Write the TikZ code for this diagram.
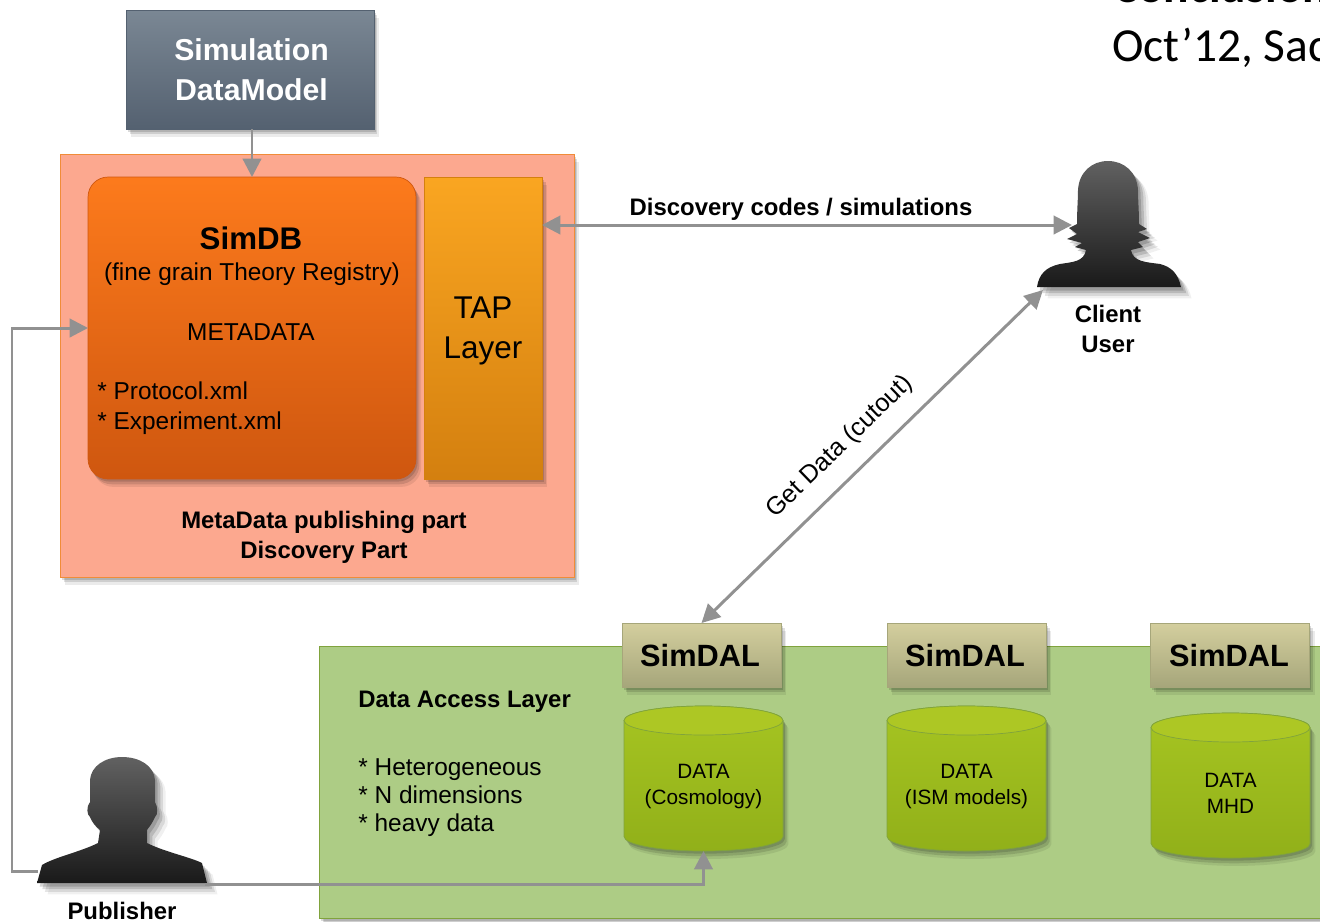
\documentclass[tikz,border=0pt]{standalone}
\usepackage{fontspec}
\setmainfont{Liberation Sans}
\newfontfamily\slidefont{Carlito}
\usetikzlibrary{shadows,arrows.meta}
\definecolor{flowgray}{rgb}{0.57, 0.57, 0.57}
\definecolor{salmonback}{rgb}{0.99, 0.66, 0.56}
\definecolor{salmonline}{rgb}{0.94, 0.55, 0.22}
\definecolor{leafback}{rgb}{0.68, 0.80, 0.52}
\definecolor{leafline}{rgb}{0.50, 0.64, 0.24}
\definecolor{slatetop}{rgb}{0.48, 0.53, 0.58}
\definecolor{slatebottom}{rgb}{0.33, 0.38, 0.44}
\definecolor{dbtop}{rgb}{0.99, 0.48, 0.11}
\definecolor{dbbottom}{rgb}{0.81, 0.34, 0.06}
\definecolor{taptop}{rgb}{0.98, 0.65, 0.13}
\definecolor{tapbottom}{rgb}{0.83, 0.50, 0.06}
\definecolor{daltop}{rgb}{0.83, 0.81, 0.62}
\definecolor{dalbottom}{rgb}{0.65, 0.65, 0.48}
\definecolor{cyltop}{rgb}{0.65, 0.77, 0.13}
\definecolor{cylbottom}{rgb}{0.57, 0.69, 0.10}
\definecolor{cylend}{rgb}{0.68, 0.78, 0.14}
\tikzset{
    softshadow/.style={
        general shadow={shadow xshift=1pt, shadow yshift=-1.5pt, fill=black, opacity=.14},
        general shadow={shadow xshift=2pt, shadow yshift=-3pt, fill=black, opacity=.12},
        general shadow={shadow xshift=3pt, shadow yshift=-4.5pt, fill=black, opacity=.08}},
    personshadow/.style={
        general shadow={shadow xshift=1.5pt, shadow yshift=-2pt, fill=black, opacity=.16},
        general shadow={shadow xshift=3pt, shadow yshift=-3.5pt, fill=black, opacity=.14},
        general shadow={shadow xshift=4.5pt, shadow yshift=-5pt, fill=black, opacity=.10},
        general shadow={shadow xshift=6pt, shadow yshift=-6.5pt, fill=black, opacity=.06}},
    boxshape/.style={rectangle, inner sep=0pt, outer sep=0pt, softshadow},
    modelbox/.style={boxshape, draw=slatebottom, top color=slatetop, bottom color=slatebottom,
        minimum width=4.96cm, minimum height=2.38cm},
    dbbox/.style={boxshape, rounded corners=0.4cm, draw=dbbottom, top color=dbtop, bottom color=dbbottom,
        minimum width=6.56cm, minimum height=6.04cm},
    tapbox/.style={boxshape, draw=tapbottom, top color=taptop, bottom color=tapbottom,
        minimum width=2.36cm, minimum height=6.04cm},
    dalbox/.style={boxshape, draw=dalbottom, top color=daltop, bottom color=dalbottom,
        minimum width=3.18cm, minimum height=1.28cm},
    cylbody/.style={softshadow, draw=leafline, top color=cyltop, bottom color=cylbottom},
    cylcap/.style={draw=leafline, fill=cylend},
    cylframe/.style={rectangle, inner sep=0pt, outer sep=0pt, minimum width=3.18cm, minimum height=2.9cm},
    person/.style={top color=black!62, bottom color=black!90, personshadow},
    flow/.style={draw=flowgray, line width=1.7pt, >={Triangle[length=10.5pt, width=10.5pt]}},
    smalltext/.style={font=\fontsize{13.9}{17}\selectfont, align=left, inner sep=0pt},
    boldtext/.style={font=\fontsize{13.6}{17}\selectfont\bfseries, align=center, inner sep=0pt},
    datatext/.style={font=\fontsize{11.8}{14.7}\selectfont, align=center, inner sep=0pt},
    dalname/.style={font=\fontsize{17.5}{20}\selectfont\bfseries, inner sep=0pt}
}

\begin{document}
\begin{tikzpicture}[x=0.02cm, y=-0.02cm]
    \useasboundingbox (0,0) rectangle (1320,921);
    \clip (0,0) rectangle (1320,921);

    % Back panels
    \node[rectangle, softshadow, draw=salmonline, fill=salmonback, minimum width=10.28cm, minimum height=8.46cm] (metapanel) at (317,365.5) {};
    \node[rectangle, softshadow, draw=leafline, fill=leafback, minimum width=20.4cm, minimum height=5.44cm] (dalpanel) at (829,782) {};

    % Registry
    \node[modelbox] (simdm) at (250,69.5) {};
    \node[font=\fontsize{17.2}{22.7}\selectfont\bfseries, text=white, align=center, inner sep=0pt] (simdmtext) at (251.5,69.5) {Simulation\\DataModel};
    \node[dbbox] (simdb) at (252,328) {};
    \node[tapbox] (tap) at (483,328) {};
    \node[font=\fontsize{17.8}{20}\selectfont\bfseries, inner sep=0pt] (simdbname) at (251,238.5) {SimDB};
    \node[smalltext] (simdbnote) at (252,274) {(fine grain Theory Registry)};
    \node[smalltext] (metadata) at (251,332.5) {METADATA};
    \node[smalltext, anchor=west] (xmlfiles) at (97,408) {* Protocol.xml\\* Experiment.xml};
    \node[font=\fontsize{17.9}{22.4}\selectfont, align=center, inner sep=0pt] (taptext) at (483,331) {TAP\\Layer};
    \node[boldtext] (metatext) at (324,537) {MetaData publishing part\\Discovery Part};

    % Data access
    \node[boldtext, anchor=west] (daltext) at (358,701.5) {Data Access Layer};
    \node[anchor=west, font=\fontsize{13.9}{16}\selectfont, align=left, inner sep=0pt] (dallist) at (358,797.5) {* Heterogeneous\\* N dimensions\\* heavy data};
    \foreach \name/\x/\y/\txt in {A/703.5/778.5/{DATA\\(Cosmology)}, B/966.5/778.5/{DATA\\(ISM models)}, C/1230.5/785.5/{DATA\\MHD}}
    {
        \path[cylbody] (\x-79.5,\y-58) -- (\x-79.5,\y+58) arc [start angle=180, end angle=0, x radius=79.5, y radius=14.5]
            -- (\x+79.5,\y-58) arc [start angle=360, end angle=180, x radius=79.5, y radius=14.5] -- cycle;
        \draw[cylcap] (\x,\y-58) ellipse [x radius=79.5, y radius=14.5];
        \node[cylframe] (data\name) at (\x,\y) {};
        \node[datatext] (text\name) at (\x,\y+8) {\txt};
    }
    \node[dalbox] (simdalA) at (701.5,655) {};
    \node[dalbox] (simdalB) at (966.5,655) {};
    \node[dalbox] (simdalC) at (1230,655) {};
    \node[dalname] (simdaltextA) at (700,655) {SimDAL};
    \node[dalname] (simdaltextB) at (965,655) {SimDAL};
    \node[dalname] (simdaltextC) at (1229,655) {SimDAL};

    % Persons
    \path[person] (1037,287) .. controls (1039,274) and (1046,267) .. (1060,264) .. controls (1072,262) and (1084,262) .. (1086,250)
        -- (1075,247) -- (1082,243) -- (1067,239) -- (1077,234) -- (1069,228) -- (1077,224)
        .. controls (1077,210) and (1078,200) .. (1078,190) .. controls (1079,172) and (1092,161) .. (1108,161)
        .. controls (1124,161) and (1137,172) .. (1138,190) .. controls (1138,200) and (1139,210) .. (1139,224)
        -- (1147,229) -- (1138,232) -- (1150,238) -- (1138,242) -- (1143,247) -- (1131,250)
        .. controls (1133,262) and (1146,262) .. (1160,264) .. controls (1172,267) and (1178,274) .. (1181,287) -- cycle;
    \path[person] (37,883) -- (42,865) .. controls (55,857) and (80,852) .. (98,843) -- (100,830)
        .. controls (95,826) and (92,822) .. (90,817) .. controls (87,815) and (86,807) .. (90,802)
        -- (90,780) .. controls (91,766) and (105,757) .. (122,757) .. controls (140,757) and (154,766) .. (155,780)
        -- (155,802) .. controls (158,807) and (158,815) .. (155,817) .. controls (153,822) and (150,826) .. (147,830)
        -- (147,843) .. controls (165,852) and (190,857) .. (202,863) -- (207,883) -- cycle;
    \node[boldtext] (clienttext) at (1108,329) {Client\\User};
    \node[boldtext] (publishertext) at (122,911) {Publisher};
    \coordinate (clientleft) at (1072,225);
    \coordinate (clientfoot) at (1043,290);
    \coordinate (publisherleft) at (38,871);
    \coordinate (publisherright) at (205,884);
    \coordinate (corner) at (12,871);

    % Connectors
    \draw[flow, ->] (simdb.north |- simdm.south) -- (simdb.north);
    \draw[flow, <->] (tap.east |- clientleft) -- (clientleft);
    \draw[flow, <->] (simdalA.north) -- (clientfoot);
    \draw[flow, ->] (publisherleft) -- (corner) |- (simdb.west);
    \draw[flow, ->] (publisherright) -| (dataA.south);
    \node[boldtext] (discoverytext) at (801,209) {Discovery codes / simulations};
    \node[font=\fontsize{14.3}{16}\selectfont, rotate=44, inner sep=0pt] (getdatatext) at (840,447) {Get Data (cutout)};

    % Slide title
    \node[anchor=base west, font=\slidefont\fontsize{27}{30}\selectfont\bfseries, inner sep=0pt] (slidetitle) at (1113,2) {Conclusion};
    \node[anchor=base west, font=\slidefont\fontsize{27}{30}\selectfont, inner sep=0pt] (slideplace) at (1112,61) {Oct’12, Sac};
\end{tikzpicture}
\end{document}
